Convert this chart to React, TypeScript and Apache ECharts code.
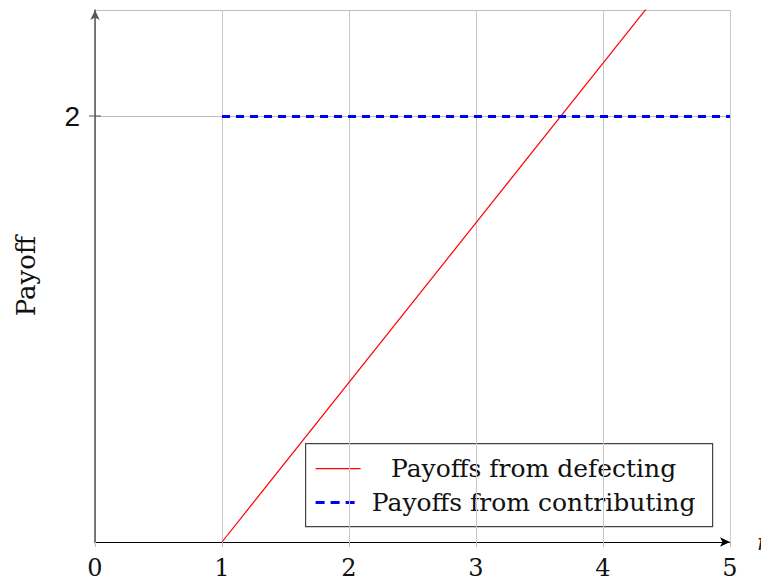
import React, { useEffect, useRef } from "react";
import * as echarts from "echarts";

const seriesNames = ["Payoffs from defecting", "Payoffs from contributing"];
const defectingX = [1, 5];
const defectingY = [0, 3];
const contributingX = [1, 5];
const contributingY = [2, 2];
const xTicks = [0, 1, 2, 3, 4, 5];
const yTickLabels = ["2"];

export default function App() {
  const ref = useRef<HTMLDivElement>(null);
  useEffect(() => {
    if (!ref.current) return;
    const chart = echarts.init(ref.current, null, { renderer: "svg" });
    const serif = "DejaVu Serif";
    chart.setOption({
      animation: false,
      grid: { left: 95, right: 31, top: 10, bottom: 41, containLabel: false, outerBoundsMode: "none" },
      xAxis: {
        type: "value",
        min: xTicks[0],
        max: xTicks[xTicks.length - 1],
        interval: 1,
        name: "r",
        nameLocation: "end",
        nameGap: 27,
        nameTextStyle: { fontFamily: serif, fontStyle: "italic", fontSize: 22, color: "#222" },
        axisLine: {
          show: true,
          lineStyle: { color: "#000", width: 1.2 },
          symbol: ["none", "arrow"],
          symbolSize: [7, 10],
        },
        axisTick: { show: true, inside: false, length: 5, lineStyle: { color: "#bbb" } },
        axisLabel: { fontFamily: serif, fontSize: 24, color: "#111", margin: 14 },
        splitLine: { show: true, lineStyle: { color: "#c8c8c8", width: 1 } },
      },
      yAxis: {
        type: "value",
        min: 0,
        max: 2.5,
        interval: 2,
        name: "Payoff",
        nameLocation: "middle",
        nameGap: 56,
        nameTextStyle: { fontFamily: serif, fontSize: 26, color: "#111" },
        axisLine: {
          show: true,
          onZero: false,
          lineStyle: { color: "#555", width: 1.5 },
          symbol: ["none", "arrow"],
          symbolSize: [7, 10],
        },
        axisTick: { show: false },
        axisLabel: {
          fontFamily: "Liberation Sans",
          fontSize: 28,
          color: "#111",
          margin: 15,
          formatter: (v: number) => (yTickLabels.includes(String(v)) ? String(v) : ""),
        },
        splitLine: { show: true, lineStyle: { color: "#bdbdbd", width: 1 } },
      },
      series: [
        {
          name: seriesNames[0],
          type: "line",
          data: defectingX.map((x, i) => [x, defectingY[i]]),
          symbol: "none",
          clip: true,
          lineStyle: { color: "#ff0000", width: 1.2 },
          z: 3,
        },
        {
          name: seriesNames[1],
          type: "line",
          data: contributingX.map((x, i) => [x, contributingY[i]]),
          symbol: "none",
          lineStyle: { color: "#0000ff", width: 3, type: [8, 6] },
          z: 4,
        },
      ],
      graphic: [
        {
          type: "line",
          shape: { x1: 89, y1: 116, x2: 101, y2: 116 },
          style: { stroke: "#555", lineWidth: 1 },
          z: 5,
        },
        {
          type: "group",
          left: 305,
          top: 443,
          z: 10,
          children: [
            {
              type: "rect",
              shape: { x: 0, y: 0, width: 407, height: 83 },
              style: { fill: "#fff", stroke: "#444", lineWidth: 1.2 },
            },
            {
              type: "line",
              shape: { x1: 10, y1: 25, x2: 55, y2: 25 },
              style: { stroke: "#ff0000", lineWidth: 1.2 },
            },
            {
              type: "line",
              shape: { x1: 10, y1: 59, x2: 55, y2: 59 },
              style: { stroke: "#0000ff", lineWidth: 3, lineDash: [9, 6] },
            },
            {
              type: "text",
              x: 228,
              y: 25,
              style: {
                text: seriesNames[0],
                fontFamily: serif,
                fontSize: 25,
                fill: "#111",
                textAlign: "center",
                textVerticalAlign: "middle",
              },
            },
            {
              type: "text",
              x: 228,
              y: 59,
              style: {
                text: seriesNames[1],
                fontFamily: serif,
                fontSize: 25,
                fill: "#111",
                textAlign: "center",
                textVerticalAlign: "middle",
              },
            },
          ],
        },
      ],
    });
    return () => chart.dispose();
  }, []);
  return <div ref={ref} style={{ width: 761, height: 583, position: "absolute", left: 0, top: 0 }} />;
}
